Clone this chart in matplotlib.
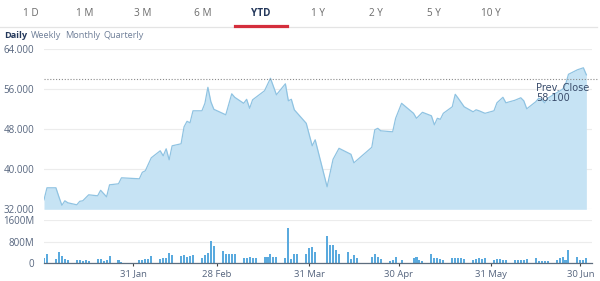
import matplotlib
matplotlib.use("Agg")
import matplotlib.pyplot as plt
import matplotlib.dates as mdates
import pandas as pd
from matplotlib.lines import Line2D

# price line vertices (date, close)
price_dates = ["2025-01-02", "2025-01-03", "2025-01-06", "2025-01-07", "2025-01-08", "2025-01-09",
               "2025-01-10", "2025-01-13", "2025-01-14", "2025-01-15", "2025-01-17", "2025-01-20",
               "2025-01-21", "2025-01-23", "2025-01-24", "2025-01-27", "2025-01-28", "2025-02-03",
               "2025-02-04", "2025-02-05", "2025-02-07", "2025-02-10", "2025-02-11", "2025-02-12",
               "2025-02-13", "2025-02-14", "2025-02-17", "2025-02-18", "2025-02-19", "2025-02-20",
               "2025-02-21", "2025-02-24", "2025-02-25", "2025-02-26", "2025-02-27", "2025-02-28",
               "2025-03-04", "2025-03-06", "2025-03-07", "2025-03-10", "2025-03-11", "2025-03-12",
               "2025-03-13", "2025-03-17", "2025-03-19", "2025-03-21", "2025-03-24", "2025-03-25",
               "2025-03-26", "2025-03-27", "2025-03-31", "2025-04-02", "2025-04-03", "2025-04-07",
               "2025-04-09", "2025-04-11", "2025-04-14", "2025-04-15", "2025-04-16", "2025-04-22",
               "2025-04-23", "2025-04-24", "2025-04-25", "2025-04-29", "2025-04-30", "2025-05-02",
               "2025-05-06", "2025-05-07", "2025-05-09", "2025-05-12", "2025-05-13", "2025-05-14",
               "2025-05-15", "2025-05-16", "2025-05-19", "2025-05-20", "2025-05-21", "2025-05-23",
               "2025-05-26", "2025-05-27", "2025-05-28", "2025-05-30", "2025-06-02", "2025-06-03",
               "2025-06-05", "2025-06-06", "2025-06-09", "2025-06-11", "2025-06-12", "2025-06-13",
               "2025-06-16", "2025-06-17", "2025-06-18", "2025-06-19", "2025-06-20", "2025-06-23",
               "2025-06-25", "2025-06-26", "2025-06-27", "2025-06-30", "2025-07-02", "2025-07-03"]
price_values = [33.9, 36.3, 36.3, 34.5, 32.8, 33.7,
                33.3, 32.9, 33.6, 33.7, 34.9, 34.7,
                35.8, 34.5, 36.9, 37.1, 38.3, 38.1,
                39.4, 39.7, 42.3, 43.7, 42.7, 44.1,
                41.9, 44.7, 45.1, 48.5, 49.6, 49.3,
                51.7, 51.7, 53.2, 56.4, 53.5, 52.0,
                50.9, 55.1, 54.4, 53.2, 54.0, 52.2,
                53.9, 55.7, 58.2, 54.9, 57.1, 53.7,
                54.0, 51.9, 49.2, 44.7, 45.9, 36.5,
                42.0, 44.2, 43.3, 43.0, 41.3, 44.4,
                47.9, 48.2, 47.7, 47.5, 50.2, 53.2,
                51.2, 50.2, 51.4, 50.7, 48.9, 50.2,
                50.0, 51.2, 52.5, 55.0, 54.2, 52.5,
                51.5, 51.9, 51.7, 51.2, 51.7, 53.3,
                54.4, 53.3, 53.8, 54.3, 53.7, 52.1,
                53.5, 54.2, 54.0, 53.3, 54.2, 55.3,
                56.0, 56.9, 59.0, 59.9, 60.3, 58.9]
prev_close = 58.1

# trading days and volume (millions)
holidays = ["2025-01-29", "2025-01-30", "2025-01-31", "2025-04-04",
            "2025-04-18", "2025-04-21", "2025-05-01", "2025-05-05"]
volumes = [185, 330,
           170, 430, 280, 160, 110,
           110, 110, 75, 135, 85,
           170, 150, 85, 110, 280,
           135, 60,
           135, 135, 160, 170, 260,
           160, 210, 185, 370, 320,
           260, 310, 235, 270, 310,
           185, 310, 380, 820, 650,
           455, 330, 330, 345, 330,
           210, 210, 235, 200, 210,
           220, 235, 345, 245, 245,
           200, 1320, 150, 345, 345,
           330, 550, 620, 430,
           1010, 680, 680, 490, 345,
           405, 160, 310, 185,
           245, 330, 220, 160,
           85, 110, 220, 135,
           210, 235, 110, 85,
           330, 210, 185, 150, 110,
           210, 210, 210, 200, 150,
           135, 160, 185, 160, 185,
           110, 160, 150, 120, 110,
           110, 135, 135, 135, 160,
           210, 85, 75, 85, 100,
           135, 185, 235, 135, 480,
           245, 135, 135, 210]

tabs = ["1 D", "1 M", "3 M", "6 M", "YTD", "1 Y", "2 Y", "5 Y", "10 Y"]
intervals = ["Daily", "Weekly", "Monthly", "Quarterly"]
date_ticks = ["2025-01-31", "2025-02-28", "2025-03-31", "2025-04-30", "2025-05-31", "2025-06-30"]
date_labels = ["31 Jan", "28 Feb", "31 Mar", "30 Apr", "31 May", "30 Jun"]
price_ticks = [32, 40, 48, 56, 64]
vol_ticks = [0, 800, 1600]

plt.rcParams["font.family"] = ["Open Sans", "DejaVu Sans"]
label_col = "#56657e"
navy = "#24385b"

W, H = 600, 281
fig = plt.figure(figsize=(W / 100, H / 100), dpi=100)

def fx(px):
    return px / W

def fy(py):
    return 1 - py / H

# tab bar
tab_x = [31, 85, 143, 203, 261, 318, 376, 434, 491]
for t, x in zip(tabs, tab_x):
    if t == "YTD":
        fig.text(fx(x), fy(13), t, ha="center", va="center", fontsize=7.2,
                 color=navy, fontweight="bold")
    else:
        fig.text(fx(x), fy(13), t, ha="center", va="center", fontsize=7.2, color="#6b6b6b")
fig.add_artist(Line2D([0, fx(597)], [fy(27), fy(27)], color="#e4e4e4", lw=0.9))
fig.add_artist(Line2D([fx(235), fx(287)], [fy(26), fy(26)], color="#d42e3c", lw=2.3))

int_x = [4, 31, 65, 104]
for t, x in zip(intervals, int_x):
    if t == "Daily":
        fig.text(fx(x), fy(35), t, ha="left", va="center", fontsize=6.6,
                 color=navy, fontweight="bold")
    else:
        fig.text(fx(x), fy(35), t, ha="left", va="center", fontsize=6.6, color="#6f7f98")

# price panel
d0 = mdates.date2num(pd.Timestamp("2025-01-02"))
px_per_day = 2.98
xlim = (d0, d0 + (592 - 44) / px_per_day)

ax = fig.add_axes([fx(44), fy(209.3), fx(592 - 44), (209.3 - 49.3) / H])
pd_dates = pd.to_datetime(price_dates)
ax.fill_between(pd_dates, price_values, 32, color="#c6e3f4", lw=0)
ax.plot(pd_dates, price_values, color="#8fc3e2", lw=0.9)
ax.set_xlim(xlim)
ax.set_ylim(32, 64)
ax.set_yticks(price_ticks)
ax.set_yticklabels([f"{v}.000" for v in price_ticks])
ax.yaxis.grid(True, color="#ececec", lw=0.8)
ax.set_axisbelow(True)
ax.set_xticks([])
for s in ax.spines.values():
    s.set_visible(False)
ax.tick_params(axis="y", length=0, pad=7, labelsize=7, labelcolor=label_col)

ax.axhline(prev_close, xmin=0, xmax=1.01, color="#8a8a8a", lw=0.8,
           linestyle=(0, (1, 1.6)), clip_on=False)
ax.text(pd.Timestamp("2025-06-16"), 57.2, f"Prev. Close\n{prev_close:.3f}", ha="left", va="top",
        fontsize=7, color="#3a4d6c", family="DejaVu Sans", linespacing=0.95)

# volume panel
trade_days = pd.bdate_range("2025-01-02", "2025-07-03")
trade_days = trade_days[~trade_days.isin(pd.to_datetime(holidays))]
vax = fig.add_axes([fx(44), fy(263.3), fx(592 - 44), (263.3 - 220) / H])
vax.bar(trade_days, volumes, width=0.68, color="#5aaade", lw=0)
vax.set_xlim(xlim)
vax.set_ylim(0, 1600)
vax.set_yticks(vol_ticks)
vax.set_yticklabels(["0", "800M", "1600M"])
vax.yaxis.grid(True, color="#ececec", lw=0.8)
vax.set_axisbelow(True)
for s in ["top", "right", "left"]:
    vax.spines[s].set_visible(False)
vax.spines["bottom"].set_color("#5d6d7e")
vax.spines["bottom"].set_linewidth(0.9)
vax.set_xticks(pd.to_datetime(date_ticks) + pd.Timedelta(days=1))
vax.set_xticklabels(date_labels)
vax.tick_params(axis="y", length=0, pad=7, labelsize=7, labelcolor=label_col)
vax.tick_params(axis="x", length=2, width=0.8, color="#444444", pad=2.5, labelsize=6.8,
                labelcolor=label_col)

fig.savefig("out.png", dpi=100)
